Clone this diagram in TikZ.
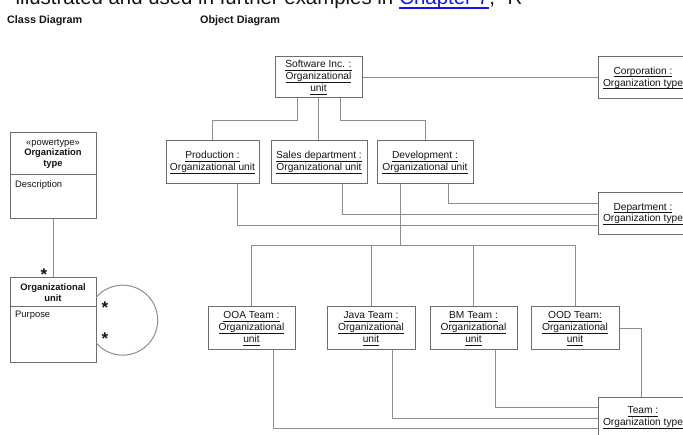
\documentclass[tikz,border=0pt]{standalone}
\usepackage{fontspec}
\setmainfont{Liberation Sans}
\definecolor{wirecol}{HTML}{8C8C8C}
\definecolor{framecol}{HTML}{6E6E6E}
\definecolor{ink}{HTML}{141414}
\definecolor{linkblue}{HTML}{1515F0}
% underline set at a fixed distance below the baseline
\newcommand\objul[1]{\underline{\raisebox{0pt}[\height][1pt]{#1}}}
\tikzset{
  objbox/.style={draw=framecol, line width=1pt, fill=white, inner sep=1pt, align=center,
    text=ink, font=\fontsize{10.2}{11.8}\selectfont},
  clsbox/.style={draw=framecol, line width=1pt, fill=white, minimum width=86pt,
    minimum height=85.5pt, inner sep=0pt},
  wire/.style={draw=wirecol, line width=1pt},
  clstext/.style={text=ink, font=\fontsize{9.4}{10.5}\selectfont, inner sep=0pt, align=center},
  attr/.style={text=ink, font=\fontsize{9.4}{10.5}\selectfont, inner sep=0pt, anchor=west},
  mult/.style={text=ink, font=\bfseries\fontsize{17}{17}\selectfont, inner sep=0pt, anchor=north},
  heading/.style={text=ink, font=\bfseries\fontsize{10.8}{12}\selectfont, inner sep=0pt, anchor=base west},
  bodytext/.style={text=ink, font=\fontsize{20.4}{24}\selectfont, inner sep=0pt, anchor=base west},
}
\begin{document}
\begin{tikzpicture}[x=1pt,y=-1pt]
\useasboundingbox (0,0) rectangle (683,435);
\clip (0,0) rectangle (683,435);

% running text line at the top edge
\node[bodytext] (pre) at (15.5,4.5) {illustrated and used in further examples in};
\node[bodytext, text=linkblue] (link) at ([xshift=5.7pt]pre.base east) {Chapter 7};
\node[bodytext] (post) at (link.base east) {, “R};
\draw[linkblue, line width=1.4pt] ([yshift=-3.5pt]link.base west) -- ([yshift=-3.5pt]link.base east);

% headings
\node[heading] (hclass) at (7,24) {Class Diagram};
\node[heading] (hobj) at (200,24) {Object Diagram};

% ---------- class diagram ----------
\node[clsbox] (otype) at (53,175.5) {};
\draw[framecol, line width=1pt] ([yshift=0.5pt]otype.west) -- ([yshift=0.5pt]otype.east);
\node[clstext] (otypehead) at (53,153.5) {«powertype»\\\textbf{Organization}\\\textbf{type}};
\node[attr] (otypeattr) at (15,185) {Description};

\node[clsbox] (ounit) at (53,320) {};
\draw[framecol, line width=1pt] ([yshift=13pt]ounit.west) -- ([yshift=13pt]ounit.east);
\node[clstext] (ounithead) at (53,292.5) {\textbf{Organizational}\\\textbf{unit}};
\node[attr] (ounitattr) at (15,315) {Purpose};

\draw[wire] (otype.south) -- (ounit.north);
\node[mult] (m1) at (44,268.5) {*};

% self association of the organizational unit
\draw[wire] ([yshift=23pt]ounit.east) arc[start angle=-138.5, end angle=138.5, radius=35];
\node[mult] (m2) at (105,302) {*};
\node[mult] (m3) at (105,333) {*};

% ---------- object diagram ----------
\node[objbox, minimum width=87pt, minimum height=41pt] (sw) at (318.5,77.5)
  {\objul{Software Inc. :}\\\objul{Organizational}\\\objul{unit}};
\node[objbox, minimum width=90pt, minimum height=42pt] (corp) at (643,78)
  {\objul{Corporation :}\\\objul{Organization type}};

\node[objbox, minimum width=93pt, minimum height=43pt] (prod) at (212.5,162.5)
  {\objul{Production :}\\\objul{Organizational unit}};
\node[objbox, minimum width=96pt, minimum height=43pt] (sales) at (319,162.5)
  {\objul{Sales department :}\\\objul{Organizational unit}};
\node[objbox, minimum width=96pt, minimum height=43pt] (dev) at (425,162.5)
  {\objul{Development :}\\\objul{Organizational unit}};
\node[objbox, minimum width=90pt, minimum height=42pt] (dept) at (643,214)
  {\objul{Department :}\\\objul{Organization type}};

\node[objbox, minimum width=87pt, minimum height=43pt] (ooa) at (251.5,328.5)
  {\objul{OOA Team :}\\\objul{Organizational}\\\objul{unit}};
\node[objbox, minimum width=88pt, minimum height=43pt] (java) at (371,328.5)
  {\objul{Java Team :}\\\objul{Organizational}\\\objul{unit}};
\node[objbox, minimum width=87pt, minimum height=43pt] (bm) at (473.5,328.5)
  {\objul{BM Team :}\\\objul{Organizational}\\\objul{unit}};
\node[objbox, minimum width=88pt, minimum height=43pt] (ood) at (575,328.5)
  {\objul{OOD Team:}\\\objul{Organizational}\\\objul{unit}};
\node[objbox, minimum width=90pt, minimum height=39pt] (team) at (643,417.5)
  {\objul{Team :}\\\objul{Organization type}};

% links of Software Inc.
\draw[wire] (sw.east) -- (sw.east -| corp.west);
\draw[wire] ([xshift=-21.5pt]sw.south) -- ++(0,22) -| (prod.north);
\draw[wire] (sw.south) -- (sw.south |- sales.north);
\draw[wire] ([xshift=21.5pt]sw.south) -- ++(0,22) -| (dev.north);

% links to the department type
\draw[wire] ([xshift=23pt]dev.south) |- ([yshift=10pt]dept.west);
\draw[wire] ([xshift=23pt]sales.south) |- ([yshift=-1pt]dept.west);
\draw[wire] ([xshift=24.5pt]prod.south) |- ([yshift=-12pt]dept.west);

% links from Development to the teams
\coordinate (bus) at ([xshift=-25pt,yshift=-61pt]dev.south);
\draw[wire] ([xshift=-25pt]dev.south) -- (bus);
\draw[wire] (ooa.north) |- (bus) -| (ood.north);
\draw[wire] (java.north) -- (java.north |- bus);
\draw[wire] (bm.north) -- (bm.north |- bus);

% links to the team type
\draw[wire] (ood.east) -| ([xshift=-2pt]team.north);
\draw[wire] ([xshift=21.5pt]bm.south) |- ([yshift=9.5pt]team.west);
\draw[wire] ([xshift=21pt]java.south) |- ([yshift=-1.5pt]team.west);
\draw[wire] ([xshift=21.5pt]ooa.south) |- ([yshift=-11.5pt]team.west);
\end{tikzpicture}
\end{document}
